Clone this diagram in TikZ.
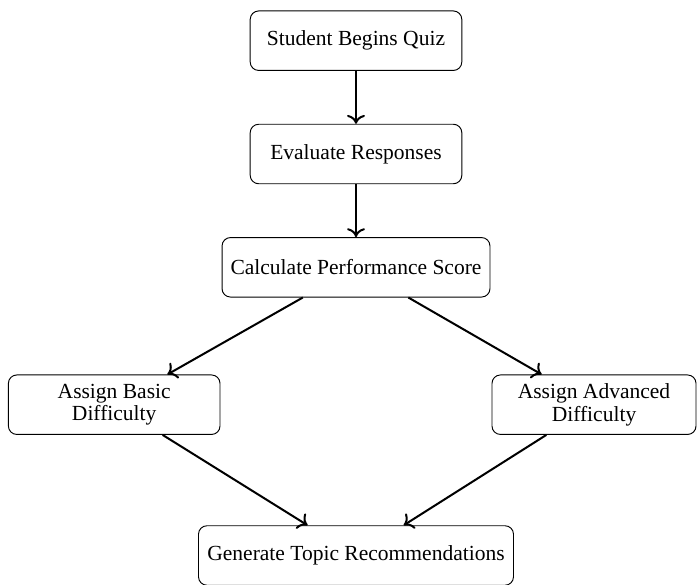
\documentclass[tikz,border=0pt]{standalone}
\usepackage{fontspec}
\setmainfont{Liberation Serif}
\usetikzlibrary{arrows.meta}
\begin{document}
\begin{tikzpicture}[x=0.474pt,y=-0.474pt,
  box/.style={draw, rounded corners=4pt, minimum height=28.2pt, inner sep=3pt,
    align=center, font=\fontsize{10.2}{10.8}\selectfont, line width=0.45pt},
  conn/.style={-{To[length=4.2pt,width=8.5pt]}, line width=0.95pt}]
\useasboundingbox (0,0) rectangle (697,584);
\node[box, minimum width=100.3pt] (start) at (356,40.7) {Student Begins Quiz};
\node[box, minimum width=100.3pt] (eval) at (356,154) {Evaluate Responses};
\node[box, minimum width=127pt] (calc) at (356,267.3) {Calculate Performance Score};
\node[box, minimum width=100.3pt] (basic) at (114.2,404.7) {Assign Basic\\Difficulty};
\node[box, minimum width=96.7pt] (adv) at (594,404.7) {Assign Advanced\\Difficulty};
\node[box, minimum width=149.3pt] (rec) at (356,555.5) {Generate Topic Recommendations};
\draw[conn] (start) -- (eval);
\draw[conn] (eval) -- (calc);
\draw[conn] (calc) -- (basic);
\draw[conn] (calc) -- (adv);
\draw[conn] (basic) -- (rec);
\draw[conn] (adv) -- (rec);
\end{tikzpicture}
\end{document}
